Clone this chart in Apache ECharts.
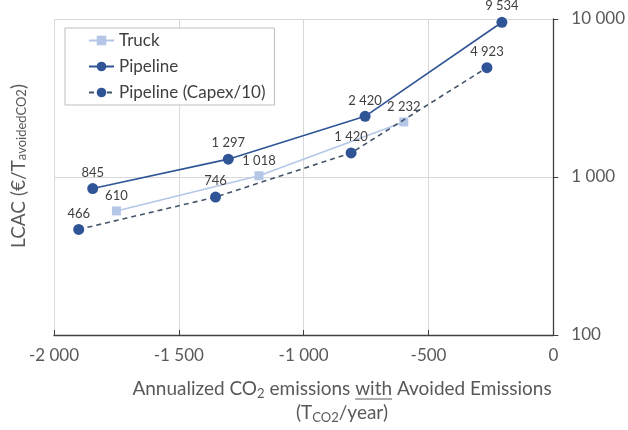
<!DOCTYPE html>
<html>
<head>
<meta charset="utf-8">
<script src="https://cdn.jsdelivr.net/npm/echarts@6/dist/echarts.min.js"></script>
<style>html,body{margin:0;padding:0;background:#fff;}#c{width:628px;height:430px;}</style>
</head>
<body>
<div id="c"></div>
<script>
const seriesNames = ['Truck', 'Pipeline', 'Pipeline (Capex/10)'];
const truckX = [-1750, -1179, -599];
const truckY = [610, 1018, 2232];
const pipeX = [-1845, -1302, -754, -206];
const pipeY = [845, 1297, 2420, 9534];
const capexX = [-1901, -1353, -810, -266];
const capexY = [466, 746, 1420, 4923];
const xTicks = [-2000, -1500, -1000, -500, 0];
const yTicks = [100, 1000, 10000];

const FONT = 'Lato, "Noto Sans", sans-serif';
function fmt(v) {
  const s = Math.round(Math.abs(v)).toString().replace(/\B(?=(\d{3})+(?!\d))/g, ' ');
  return (v < 0 ? '-' : '') + s;
}
function pairs(xs, ys) { return xs.map((x, i) => [x, ys[i]]); }

const chart = echarts.init(document.getElementById('c'), null, {renderer: 'canvas'});

const ctx = document.createElement('canvas').getContext('2d');
function mw(t, size) { ctx.font = size + 'px ' + FONT; return ctx.measureText(t).width; }
const nameSize = 19, subSize = 13;
const p1 = 'Annualized CO', p2 = ' emissions ', pw = 'with', p3 = ' Avoided Emissions';
const w1 = mw(p1, nameSize), ws = mw('2', subSize), w2 = mw(p2, nameSize), ww = mw(pw, nameSize), w3 = mw(p3, nameSize);
const total = w1 + ws + w2 + ww + w3;
const cx = 342;
const ulStart = cx - total / 2 + w1 + ws + w2;

const labelStyle = {show: true, position: 'top', distance: 4, color: '#404040', fontSize: 13, fontFamily: FONT, formatter: p => fmt(p.value[1])};
const subRich = {sub: {fontSize: subSize, lineHeight: 12, verticalAlign: 'bottom', fill: '#595959', fontFamily: FONT}};

chart.setOption({
  animation: false,
  backgroundColor: '#fff',
  textStyle: {fontFamily: FONT},
  grid: {left: 54, right: 71, top: 19, bottom: 95, containLabel: false},
  legend: {
    orient: 'vertical', left: 65, top: 28,
    data: seriesNames,
    backgroundColor: '#fff', borderColor: '#bfbfbf', borderWidth: 1,
    padding: [4, 9, 4, 23], itemGap: 9, itemWidth: 25, itemHeight: 12,
    textStyle: {fontSize: 17, color: '#404040', fontFamily: FONT}
  },
  xAxis: {
    type: 'value', min: xTicks[0], max: xTicks[xTicks.length - 1], interval: 500,
    axisLine: {show: true, onZero: false, lineStyle: {color: '#404040', width: 1.3}},
    axisTick: {show: true, inside: true, length: 5, lineStyle: {color: '#404040'}},
    splitLine: {show: true, lineStyle: {color: '#d9d9d9'}},
    axisLabel: {color: '#595959', fontSize: 17, margin: 12, fontFamily: FONT, formatter: v => fmt(v)}
  },
  yAxis: {
    type: 'log', logBase: 10, position: 'right', min: yTicks[0], max: yTicks[yTicks.length - 1],
    axisLine: {show: true, lineStyle: {color: '#404040', width: 1.3}},
    axisTick: {show: true, inside: false, length: 5, lineStyle: {color: '#404040'}},
    minorTick: {show: false},
    splitLine: {show: true, lineStyle: {color: '#d9d9d9'}},
    axisLabel: {color: '#595959', fontSize: 17, margin: 18, fontFamily: FONT, formatter: v => fmt(v)}
  },
  series: [
    {name: seriesNames[0], type: 'line', data: pairs(truckX, truckY), symbol: 'rect', symbolSize: 9,
     itemStyle: {color: '#b4c7e7'}, lineStyle: {color: '#b4c7e7', width: 1.6}, label: labelStyle, z: 2},
    {name: seriesNames[1], type: 'line', data: pairs(pipeX, pipeY), symbol: 'circle', symbolSize: 11,
     itemStyle: {color: '#2f5597'}, lineStyle: {color: '#2f5597', width: 1.6}, label: labelStyle, z: 3},
    {name: seriesNames[2], type: 'line', data: pairs(capexX, capexY), symbol: 'circle', symbolSize: 11,
     itemStyle: {color: '#2f5597'}, lineStyle: {color: '#44546a', width: 1.6, type: [5, 4]}, label: labelStyle, z: 3}
  ],
  graphic: [
    {
      type: 'text', x: 19, y: 166, rotation: Math.PI / 2, silent: true,
      style: {
        text: 'LCAC (€/T{sub|avoidedCO2})',
        fill: '#595959', font: nameSize + 'px ' + FONT,
        align: 'center', verticalAlign: 'middle',
        rich: subRich
      }
    },
    {
      type: 'text', x: cx, y: 389, silent: true,
      style: {
        text: p1 + '{sub|2}' + p2 + pw + p3,
        fill: '#595959', font: nameSize + 'px ' + FONT, lineHeight: 22,
        align: 'center', verticalAlign: 'middle',
        rich: subRich
      }
    },
    {
      type: 'line', silent: true,
      shape: {x1: ulStart, y1: 399, x2: ulStart + ww, y2: 399},
      style: {stroke: '#595959', lineWidth: 1}
    },
    {
      type: 'text', x: cx, y: 413, silent: true,
      style: {
        text: '(T{sub|CO2}/year)',
        fill: '#595959', font: nameSize + 'px ' + FONT, lineHeight: 22,
        align: 'center', verticalAlign: 'middle',
        rich: subRich
      }
    }
  ]
});
</script>
</body>
</html>
